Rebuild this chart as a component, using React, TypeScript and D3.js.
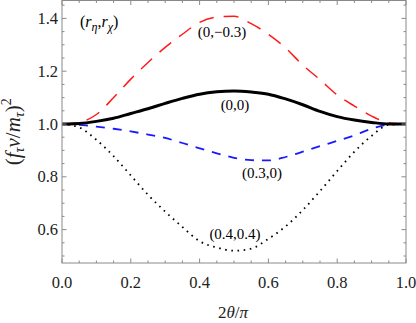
import React from 'react';
import * as d3 from 'd3';

// 2θ/π sample positions
const xs = [0, 0.05, 0.1, 0.15, 0.2, 0.25, 0.3, 0.35, 0.4, 0.45, 0.5, 0.55, 0.6, 0.65, 0.7, 0.75, 0.8, 0.85, 0.9, 0.95, 1.0];

// (f v / m)^2 for each (r_eta, r_chi)
const redVals = [1.0, 1.006, 1.036, 1.1, 1.17, 1.233, 1.29, 1.34, 1.385, 1.405, 1.408, 1.38, 1.34, 1.288, 1.223, 1.168, 1.11, 1.068, 1.03, 1.005, 1.0];
const solidVals = [1.0, 1.002, 1.01, 1.022, 1.04, 1.058, 1.078, 1.097, 1.113, 1.122, 1.125, 1.121, 1.113, 1.095, 1.073, 1.048, 1.028, 1.015, 1.006, 1.0, 1.0];
const blueVals = [1.0, 0.997, 0.99, 0.982, 0.972, 0.96, 0.947, 0.928, 0.908, 0.889, 0.872, 0.863, 0.862, 0.875, 0.895, 0.916, 0.936, 0.957, 0.982, 0.998, 1.0];
const dottedVals = [1.0, 0.987, 0.94, 0.878, 0.805, 0.732, 0.668, 0.61, 0.556, 0.532, 0.52, 0.528, 0.565, 0.612, 0.674, 0.746, 0.822, 0.895, 0.955, 0.997, 1.0];

const xTicks = [0, 0.2, 0.4, 0.6, 0.8, 1.0];
const yTicks = [0.6, 0.8, 1.0, 1.2, 1.4];

const W = 416, H = 323;
const left = 62, right = 406, top = 0.5, bottom = 263;

export default function App() {
    const x = d3.scaleLinear().domain([0, 1]).range([left, right]);
    const y = d3.scaleLinear().domain([0.4735, 1.4678]).range([bottom, top]);

    const line = d3.line<number>()
        .x((d, i) => x(xs[i]))
        .y(d => y(d))
        .curve(d3.curveMonotoneX);

    const xMinor = d3.range(0, 1.0001, 0.05);
    const yMinor = d3.range(0.5, 1.46, 0.05);
    const isMajor = (v: number, list: number[]) => list.some(t => Math.abs(t - v) < 1e-6);

    const frame = '#8a8a8a';

    return (
        <svg width={W} height={H}
            style={{position: 'absolute', left: 0, top: 0}}>
            <rect x={0} y={0} width={W} height={H} fill='white'/>

            {/* curves */}
            <path d={line(redVals) || ''} fill='none' stroke='#ff1a1a' strokeWidth={1.5} strokeDasharray='15 10'/>
            <path d={line(blueVals) || ''} fill='none' stroke='#1a1aff' strokeWidth={1.8} strokeDasharray='9 8'/>
            <path d={line(dottedVals) || ''} fill='none' stroke='black' strokeWidth={1.8} strokeDasharray='1.6 4.6'/>
            <path d={line(solidVals) || ''} fill='none' stroke='black' strokeWidth={3}/>

            {/* frame */}
            <rect x={left} y={top} width={right - left} height={bottom - top} fill='none' stroke={frame} strokeWidth={1}/>
            {xMinor.map(t => {
                const len = isMajor(t, xTicks) ? 4.5 : 2.5;
                return (
                    <g key={'xt' + t}>
                        <line x1={x(t)} x2={x(t)} y1={bottom} y2={bottom - len} stroke={frame}/>
                        <line x1={x(t)} x2={x(t)} y1={top} y2={top + len} stroke={frame}/>
                    </g>
                );
            })}
            {yMinor.map(v => {
                const len = isMajor(v, yTicks) ? 4.5 : 2.5;
                return (
                    <g key={'yt' + v.toFixed(2)}>
                        <line x1={left} x2={left + len} y1={y(v)} y2={y(v)} stroke={frame}/>
                        <line x1={right} x2={right - len} y1={y(v)} y2={y(v)} stroke={frame}/>
                    </g>
                );
            })}

            <g fontFamily='Liberation Serif'>
                {/* tick labels */}
                {xTicks.map(t => (
                    <text key={'xl' + t} x={x(t)} y={287.5} textAnchor='middle' fontSize={16.5} fill='#222'>{t.toFixed(1)}</text>
                ))}
                {yTicks.map(v => (
                    <text key={'yl' + v} x={58} y={y(v) + 5.5} textAnchor='end' fontSize={16.5} fill='#222'>{v.toFixed(1)}</text>
                ))}

                {/* axis titles */}
                <text x={233} y={318} textAnchor='middle' fontSize={17} fill='#222'>
                    2<tspan fontStyle='italic'>θ</tspan>/<tspan fontStyle='italic'>π</tspan>
                </text>
                <text transform={`translate(20,${(top + bottom) / 2}) rotate(-90)`} textAnchor='middle' fontSize={21} fill='#222'>
                    (<tspan fontStyle='italic'>f</tspan><tspan fontSize={14} dy={4} fontStyle='italic'>τ</tspan>
                    <tspan dy={-4} fontStyle='italic'>v</tspan>/<tspan fontStyle='italic'>m</tspan><tspan fontSize={14} dy={4} fontStyle='italic'>τ</tspan>
                    <tspan dy={-4}>)</tspan><tspan fontSize={14} dy={-9}>2</tspan>
                </text>

                {/* curve labels */}
                <text x={80} y={27} fontSize={16}>
                    (<tspan fontStyle='italic'>r</tspan><tspan fontSize={12} dy={4} fontStyle='italic'>η</tspan><tspan dy={-4}>,</tspan><tspan fontStyle='italic'>r</tspan><tspan fontSize={12} dy={4} fontStyle='italic'>χ</tspan><tspan dy={-4}>)</tspan>
                </text>
                <text x={222} y={37} textAnchor='middle' fontSize={15}>(0,−0.3)</text>
                <text x={235} y={110} textAnchor='middle' fontSize={15}>(0,0)</text>
                <text x={262} y={178} textAnchor='middle' fontSize={15}>(0.3,0)</text>
                <text x={235} y={239} textAnchor='middle' fontSize={15}>(0.4,0.4)</text>
            </g>
        </svg>
    );
}
